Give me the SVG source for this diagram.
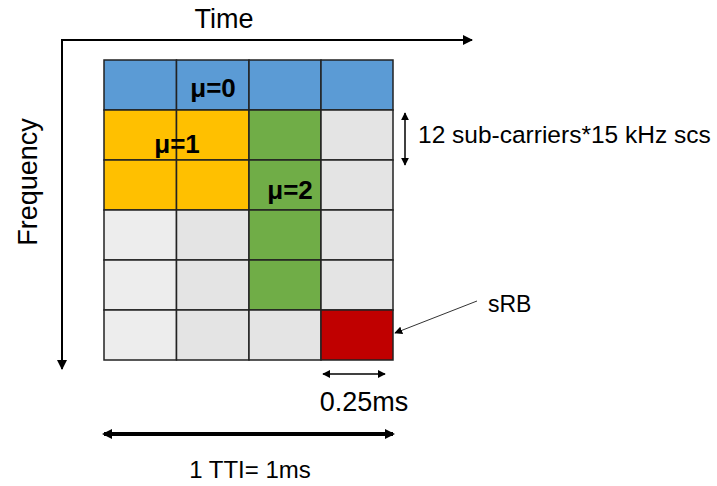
<svg xmlns="http://www.w3.org/2000/svg" width="717" height="486" viewBox="0 0 717 486">
  <style>
    .lbl { font-family: "Liberation Sans", Arial, sans-serif; fill: #000; }
    .mu { font-family: "Liberation Sans", Arial, sans-serif; font-weight: bold; font-size: 26px; fill: #000; }
    .cell { stroke: #222; stroke-width: 1.5; }
    .b { fill: #5B9BD5; }
    .o { fill: #FFC000; }
    .g { fill: #70AD47; }
    .r { fill: #C00000; }
    .l1 { fill: #EDEDED; }
    .l2 { fill: #E4E4E4; }
  </style>
  <defs>
    <marker id="tri-s" viewBox="0 0 10 10" refX="9" refY="5" markerWidth="8" markerHeight="8" orient="auto-start-reverse" markerUnits="userSpaceOnUse">
      <path d="M0,0 L10,5 L0,10 z" fill="#000"/>
    </marker>
    <marker id="tri-m" viewBox="0 0 10 10" refX="9" refY="5" markerWidth="10" markerHeight="10" orient="auto-start-reverse" markerUnits="userSpaceOnUse">
      <path d="M0,0 L10,5 L0,10 z" fill="#000"/>
    </marker>
    <marker id="tri-thick" viewBox="0 0 10 10" refX="8" refY="5" markerWidth="10" markerHeight="10" orient="auto-start-reverse" markerUnits="userSpaceOnUse">
      <path d="M0,0 L10,5 L0,10 z" fill="#000"/>
    </marker>
  </defs>

  <!-- resource grid: 4 columns x 6 rows -->
  <g id="grid">
    <rect class="cell b" x="104" y="60" width="72.5" height="50"/>
    <rect class="cell b" x="176.5" y="60" width="72.5" height="50"/>
    <rect class="cell b" x="249" y="60" width="72" height="50"/>
    <rect class="cell b" x="321" y="60" width="72" height="50"/>

    <rect class="cell o" x="104" y="110" width="72.5" height="50"/>
    <rect class="cell o" x="176.5" y="110" width="72.5" height="50"/>
    <rect class="cell g" x="249" y="110" width="72" height="50"/>
    <rect class="cell l2" x="321" y="110" width="72" height="50"/>

    <rect class="cell o" x="104" y="160" width="72.5" height="50"/>
    <rect class="cell o" x="176.5" y="160" width="72.5" height="50"/>
    <rect class="cell g" x="249" y="160" width="72" height="50"/>
    <rect class="cell l2" x="321" y="160" width="72" height="50"/>

    <rect class="cell l1" x="104" y="210" width="72.5" height="50"/>
    <rect class="cell l2" x="176.5" y="210" width="72.5" height="50"/>
    <rect class="cell g" x="249" y="210" width="72" height="50"/>
    <rect class="cell l2" x="321" y="210" width="72" height="50"/>

    <rect class="cell l1" x="104" y="260" width="72.5" height="50"/>
    <rect class="cell l2" x="176.5" y="260" width="72.5" height="50"/>
    <rect class="cell g" x="249" y="260" width="72" height="50"/>
    <rect class="cell l2" x="321" y="260" width="72" height="50"/>

    <rect class="cell l1" x="104" y="310" width="72.5" height="50"/>
    <rect class="cell l2" x="176.5" y="310" width="72.5" height="50"/>
    <rect class="cell l2" x="249" y="310" width="72" height="50"/>
    <rect id="srb" class="cell r" x="321" y="310" width="72" height="50"/>
  </g>

  <g id="numerology-labels">
    <text class="mu" x="213" y="97" text-anchor="middle">μ=0</text>
    <text class="mu" x="177" y="153" text-anchor="middle">μ=1</text>
    <text class="mu" x="290" y="199" text-anchor="middle">μ=2</text>
  </g>

  <!-- axes and dimension arrows -->
  <g id="connectors">
    <line x1="61" y1="40" x2="472" y2="40" stroke="#000" stroke-width="2" marker-end="url(#tri-m)"/>
    <line x1="62" y1="39" x2="62" y2="369" stroke="#000" stroke-width="2" marker-end="url(#tri-m)"/>
    <line x1="405" y1="113" x2="405" y2="165" stroke="#000" stroke-width="1.5" marker-start="url(#tri-s)" marker-end="url(#tri-s)"/>
    <line x1="477" y1="301" x2="395" y2="333" stroke="#333" stroke-width="1" marker-end="url(#tri-s)"/>
    <line x1="323" y1="374" x2="385" y2="374" stroke="#000" stroke-width="1.5" marker-start="url(#tri-s)" marker-end="url(#tri-s)"/>
    <line x1="104" y1="434" x2="393" y2="434" stroke="#000" stroke-width="4" marker-start="url(#tri-thick)" marker-end="url(#tri-thick)"/>
  </g>

  <g id="axis-labels">
    <text class="lbl" x="224" y="28" font-size="27" text-anchor="middle">Time</text>
    <text class="lbl" font-size="27" text-anchor="middle" transform="translate(37,182) rotate(-90)">Frequency</text>
    <text class="lbl" x="418" y="143" font-size="24.5">12 sub-carriers*15 kHz scs</text>
    <text class="lbl" x="488" y="312" font-size="23">sRB</text>
    <text class="lbl" x="364" y="411" font-size="27" text-anchor="middle">0.25ms</text>
    <text class="lbl" x="250" y="478" font-size="24" text-anchor="middle">1 TTI= 1ms</text>
  </g>
</svg>
